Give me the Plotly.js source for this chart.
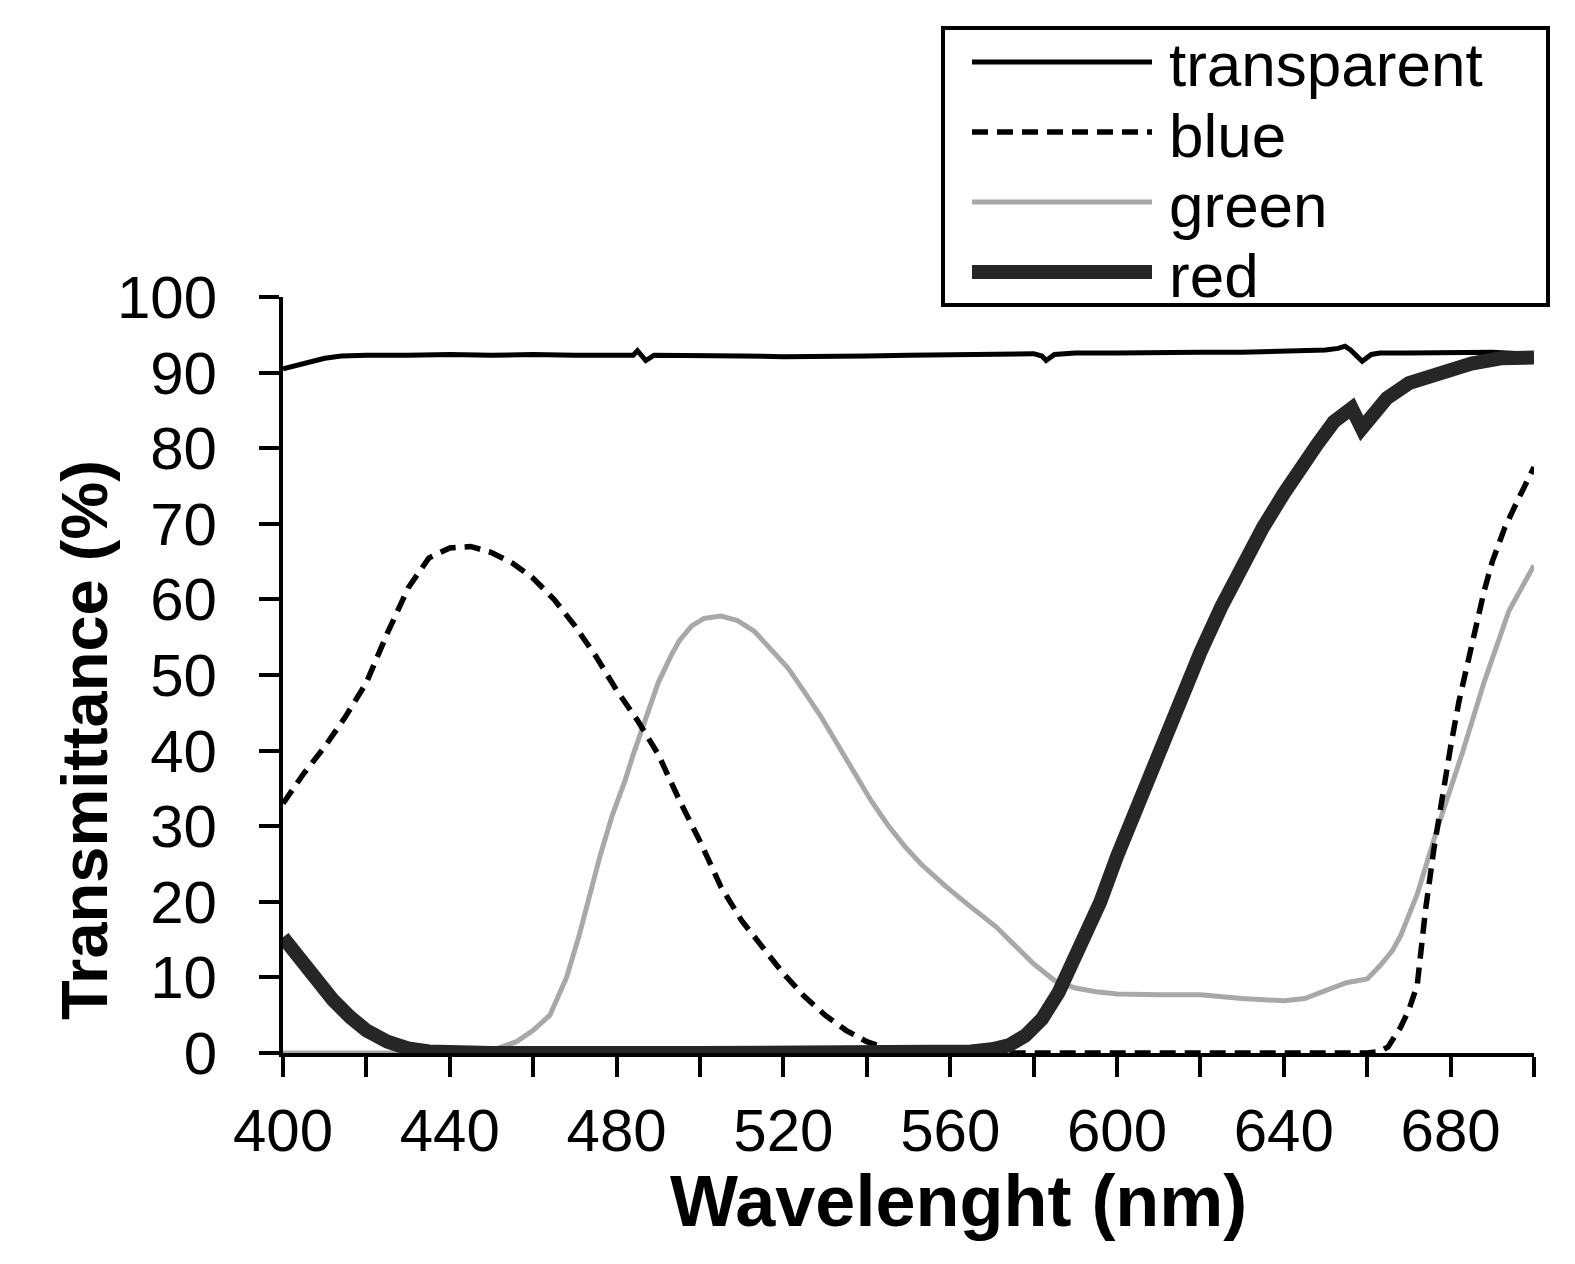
<!DOCTYPE html>
<html>
<head>
<meta charset="utf-8">
<script src="https://cdn.plot.ly/plotly-3.0.1.min.js"></script>
<style>html,body{margin:0;padding:0;background:#fff;}#chart{width:1575px;height:1264px;}</style>
</head>
<body>
<div id="chart"></div>
<script>
// ---- data ----
const seriesNames = ["transparent", "blue", "green", "red"];

const wlTransparent = [400,405,410,414,420,430,440,450,460,470,480,484,485,487,489,495,500,510,520,530,540,550,560,570,575,580,582,583,585,590,600,610,620,630,640,645,650,653,654.7,656,658.8,661,663,670,680,690,700];
const tTransparent  = [90.5,91.2,91.9,92.2,92.3,92.3,92.4,92.3,92.4,92.3,92.4,92.3,92.9,91.6,92.3,92.3,92.2,92.2,92.1,92.1,92.2,92.3,92.4,92.5,92.6,92.5,92.2,91.6,92.4,92.6,92.6,92.7,92.7,92.7,92.8,92.8,93.0,93.2,93.5,93.0,91.5,92.4,92.6,92.6,92.7,92.7,92.4];

const wlBlue = [400,405,410,415,420,425,430,435,440,445,450,455,460,465,470,475,480,485,490,495,500,505,510,515,520,525,530,535,540,545,550,555,560,600,640,660,663,665,668,670,672,674,676,678,680,682,685,688,690,693,696,700];
const tBlue  = [33,37,40.5,44.5,49,55.5,61.5,65.5,66.8,67,66.2,64.8,62.8,60,56.5,52.5,48,44,39.5,33.5,28,22,17.5,14,10.5,7.5,5,3,1.5,0.5,0.2,0.1,0,0,0,0,0.2,0.8,3.4,5.7,9,19,27,34,40.5,46.5,54,61,65,69.5,73,77.5];

const wlGreen = [400,440,448,452,456,460,464,468,471,476,479,482,484,485.6,487,490,493,495,498,501,505,509,513,517,521,525,529,533,537,541,545,549,553,559,565,571,575,580,585,590,595,600,610,620,630,640,645,650,655,660,663,666,668,672,677,683,688,694,700];
const tGreen  = [0,0,0.2,0.7,1.5,3,5,10,15.5,26,31.5,36,39.5,42,44,49,52.5,54.5,56.5,57.5,57.8,57.2,55.8,53.5,51,47.8,44.5,40.8,37,33.4,30.2,27.4,25,22,19.3,16.7,14.5,11.8,9.6,8.6,8.1,7.8,7.7,7.7,7.2,6.9,7.2,8.3,9.3,9.8,11.5,13.5,15.5,21,30,40,49,58.5,64.5];

const wlRed = [400,404,408,412,416,420,425,430,435,440,450,500,560,565,570,574,578,582,586,590,596,600,605,610,615,620,625,630,635,640,644,648,652,655,656.3,658.7,661,664.7,670,677.5,685,692,700];
const tRed  = [15.3,12.3,9.5,7,4.8,3,1.5,0.6,0.2,0,0,0,0,0.2,0.5,1,2.3,4.5,8,12.5,20,26,33,39.5,46.5,53,59,64.5,69.5,74,77.5,80.5,83.5,85.2,85.3,82.6,84,86.6,88.6,90,91.2,91.9,92];

const xTickVals = [400,420,440,460,480,500,520,540,560,580,600,620,640,660,680,700];
const xTickText = ["400","","440","","480","","520","","560","","600","","640","","680",""];
const yTickVals = [0,10,20,30,40,50,60,70,80,90,100];

const xTitle = "Wavelenght (nm)";
const yTitle = "Transmittance (%)";

// ---- styles ----
const FONT = "Liberation Sans, Arial, sans-serif";
const styles = {
  transparent: {color:"#000000", width:5, dash:"solid"},
  blue:        {color:"#000000", width:5.5, dash:"16px,9px"},
  green:       {color:"#a8a8a8", width:5, dash:"solid"},
  red:         {color:"#262626", width:14, dash:"solid"}
};

const traces = [
  {x: wlTransparent, y: tTransparent, name: seriesNames[0], line: styles.transparent},
  {x: wlGreen, y: tGreen, name: seriesNames[2], line: styles.green},
  {x: wlBlue, y: tBlue, name: seriesNames[1], line: styles.blue},
  {x: wlRed, y: tRed, name: seriesNames[3], line: styles.red}
].map(t => Object.assign({type:"scatter", mode:"lines", hoverinfo:"skip", showlegend:false}, t));

// ---- manual legend (pixel positions converted to paper coords) ----
const L = 283, R = 1534, T = 297, B = 1053;
const px = v => (v - L) / (R - L);
const py = v => (B - v) / (B - T);
const legendRows = [62, 132, 202, 272];
const legendOrder = ["transparent","blue","green","red"];
const shapes = [
  {type:"rect", xref:"paper", yref:"paper", x0:px(943), x1:px(1548), y0:py(305), y1:py(28),
   line:{color:"#000", width:4}, fillcolor:"rgba(255,255,255,0)", layer:"above"}
];
const annotations = [];
legendOrder.forEach((nm, i) => {
  const st = styles[nm];
  shapes.push({type:"line", xref:"paper", yref:"paper", x0:px(972), x1:px(1152),
    y0:py(legendRows[i]), y1:py(legendRows[i]), line:{color:st.color, width:st.width, dash:st.dash}});
  annotations.push({xref:"paper", yref:"paper", x:px(1168), y:py(legendRows[i]+3), text:nm, borderpad:0,
    showarrow:false, xanchor:"left", yanchor:"middle", font:{family:FONT, size:62, color:"#000"}});
});
annotations.push({xref:"paper", yref:"paper", x:px(958), y:py(1201), text:"<b>"+xTitle+"</b>",
  showarrow:false, xanchor:"center", yanchor:"middle", font:{family:FONT, size:72, color:"#000"}});
annotations.push({xref:"paper", yref:"paper", x:px(84), y:py(740), text:"<b>"+yTitle+"</b>", textangle:-90,
  showarrow:false, xanchor:"center", yanchor:"middle", font:{family:FONT, size:65, color:"#000"}});

const layout = {
  width:1575, height:1264, autosize:false,
  margin:{l:L, r:1575-R, t:T, b:1264-B, pad:0},
  paper_bgcolor:"#fff", plot_bgcolor:"#fff",
  showlegend:false,
  xaxis:{range:[400,700], tickmode:"array", tickvals:xTickVals, ticktext:xTickText,
    showline:true, linewidth:4, linecolor:"#000", ticks:"outside", ticklen:20, tickwidth:4, tickcolor:"#000",
    showgrid:false, zeroline:false, tickfont:{family:FONT, size:60, color:"#000"}, ticklabelstandoff:2, fixedrange:true},
  yaxis:{range:[0,100], tickmode:"array", tickvals:yTickVals,
    showline:true, linewidth:4, linecolor:"#000", ticks:"outside", ticklen:20, tickwidth:4, tickcolor:"#000",
    showgrid:false, zeroline:false, tickfont:{family:FONT, size:60, color:"#000"}, ticklabelstandoff:30, fixedrange:true},
  shapes: shapes,
  annotations: annotations
};

Plotly.newPlot("chart", traces, layout, {displayModeBar:false, staticPlot:true});
</script>
</body>
</html>
